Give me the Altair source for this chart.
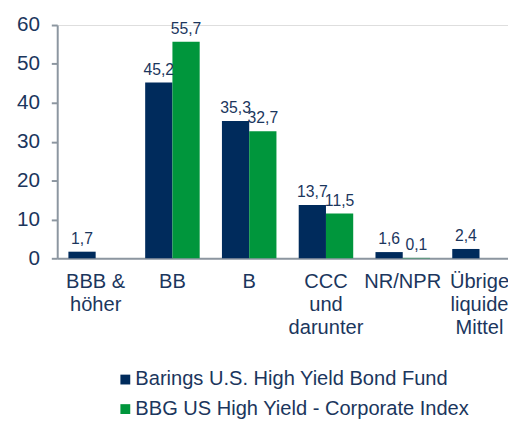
import altair as alt
import pandas as pd

categories = ["BBB &\nhöher", "BB", "B", "CCC\nund\ndarunter", "NR/NPR", "Übrige\nliquide\nMittel"]
series_names = ["Barings U.S. High Yield Bond Fund", "BBG US High Yield - Corporate Index"]
fund_values = [1.7, 45.2, 35.3, 13.7, 1.6, 2.4]
index_values = [None, 55.7, 32.7, 11.5, 0.1, None]
y_ticks = [0, 10, 20, 30, 40, 50, 60]
colors = ["#002b5c", "#00963c"]

rows = []
for c, v in zip(categories, fund_values):
    rows.append({"cat": c, "series": series_names[0], "value": v})
for c, v in zip(categories, index_values):
    rows.append({"cat": c, "series": series_names[1], "value": v})
df = pd.DataFrame(rows)

TXT = "#1b365d"
AX = "#8c96a0"
FONT = "Liberation Sans"

yenc = alt.Y("value:Q", title=None,
             scale=alt.Scale(domain=[0, 60], nice=False, zero=True),
             axis=alt.Axis(values=y_ticks, tickCount=7, grid=False, labelFontSize=21,
                           labelColor=TXT, labelFont=FONT, tickSize=6, tickColor=AX,
                           tickWidth=2, domainColor=AX, domainWidth=2, labelPadding=12,
                           labelOverlap=False))

base = alt.Chart(df).transform_filter("isValid(datum.value)").encode(
    x=alt.X("cat:N", sort=categories, title=None,
            scale=alt.Scale(paddingInner=0.29, paddingOuter=0.081, align=0.9),
            axis=alt.Axis(labelExpr="split(datum.label, '\\n')", labelAngle=0,
                          labelFontSize=20.4, labelLineHeight=23, labelColor=TXT,
                          labelFont=FONT, ticks=False, labelPadding=14,
                          domainColor=AX, domainWidth=2, labelBaseline="top",
                          labelOverlap=False, labelLimit=200)),
    xOffset=alt.XOffset("series:N", sort=series_names,
                        scale=alt.Scale(domain=series_names, paddingInner=0, paddingOuter=0)),
    y=yenc,
)

bars = base.mark_bar().encode(
    color=alt.Color("series:N", scale=alt.Scale(domain=series_names, range=colors),
                    legend=alt.Legend(title=None, orient="none", legendX=59, legendY=350,
                                      direction="vertical", symbolType="square",
                                      symbolSize=100, symbolStrokeWidth=0,
                                      labelFontSize=20.4, labelColor=TXT, labelFont=FONT,
                                      labelOffset=0, rowPadding=9, padding=0,
                                      labelLimit=500)),
)

labels = base.transform_calculate(
    lbl="replace(format(datum.value, '.1f'), '.', ',')"
).mark_text(baseline="bottom", dy=-5, fontSize=16, color=TXT, font=FONT).encode(
    text="lbl:N",
)

chart = alt.layer(bars, labels).properties(
    width=458, height=237,
    autosize=alt.AutoSizeParams(type="none"),
    padding={"left": 50, "top": 14, "right": 0, "bottom": 162},
).configure_view(stroke=None).configure(background="white")

chart.save("out.html", embed_options={"renderer": "svg", "actions": False})
